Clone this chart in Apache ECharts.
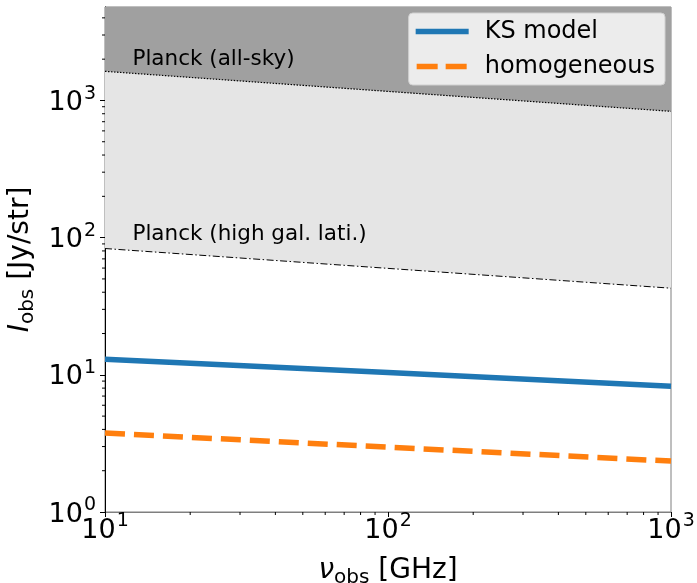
<!DOCTYPE html>
<html>
<head>
<meta charset="utf-8">
<script src="https://cdn.jsdelivr.net/npm/echarts@6/dist/echarts.min.js"></script>
<style>
html,body{margin:0;padding:0;background:#fff;}
#chart{width:697px;height:583px;}
</style>
</head>
<body>
<div id="chart"></div>
<script>
// ---- data ----
const freqs = [10, 100, 1000];                 // GHz
const planckAllSky = [1630, 1164, 833];        // Jy/str
const planckHighLat = [83.3, 59.7, 42.8];      // Jy/str
const ksModel = [13.0, 10.4, 8.27];            // Jy/str
const homogeneous = [3.76, 2.97, 2.35];        // Jy/str
const xTicks = [10, 100, 1000];
const yTicks = [1, 10, 100, 1000];
const xMinorTicks = [20,30,40,50,60,70,80,90,200,300,400,500,600,700,800,900];
const yMinorTicks = [2,3,4,5,6,7,8,9,20,30,40,50,60,70,80,90,200,300,400,500,600,700,800,900,2000,3000,4000];
const annotationNames = ['Planck (all-sky)', 'Planck (high gal. lati.)'];
const annotationX = [12.5, 12.5];
const annotationY = [2000, 106];
const xRange = [10, 1000];
const yRange = [1, 4800];

const FONT = 'DejaVu Sans';
const zip = (xs, ys) => xs.map((x, i) => [x, ys[i]]);
const supFmt = v => '{b|10}{s|' + Math.round(Math.log10(v)) + '}';
const supRich = {
  b: {fontSize: 27, fontFamily: FONT, color: '#000', lineHeight: 32, verticalAlign: 'bottom'},
  s: {fontSize: 19, fontFamily: FONT, color: '#000', lineHeight: 32, verticalAlign: 'top', padding: [0, 0, 0, 1]}
};
const nameRich = {
  i: {fontFamily: FONT, fontStyle: 'italic', fontSize: 28, color: '#000', lineHeight: 34, verticalAlign: 'bottom'},
  sub: {fontFamily: FONT, fontSize: 20, color: '#000', lineHeight: 34, verticalAlign: 'bottom', padding: [0, 0, -3, 0]},
  n: {fontFamily: FONT, fontSize: 28, color: '#000', lineHeight: 34, verticalAlign: 'bottom'}
};

const chart = echarts.init(document.getElementById('chart'), null, {renderer: 'canvas'});
chart.setOption({
  animation: false,
  backgroundColor: '#fff',
  grid: {left: 105, right: 26, top: 7, bottom: 71, containLabel: false, outerBoundsMode: 'none',
    show: true, borderColor: '#7f7f7f', borderWidth: 1, backgroundColor: 'transparent'},
  legend: {
    orient: 'vertical', right: 32, top: 13,
    backgroundColor: 'rgba(236,236,236,1)', borderColor: '#d0d0d0', borderWidth: 1, borderRadius: 4,
    padding: [5, 10, 5, 7], itemGap: 8, itemWidth: 53, itemHeight: 5.5,
    textStyle: {fontFamily: FONT, fontSize: 24, color: '#000', lineHeight: 27, padding: [0, 0, 0, 11]},
    data: [
      {name: 'KS model', icon: 'path://M0 0H53V5.5H0Z', itemStyle: {color: '#1f77b4'}},
      {name: 'homogeneous', icon: 'path://M2 0H23V5.5H2Z M31 0H52V5.5H31Z M53 0V5.5Z', itemStyle: {color: '#ff7f0e'}}
    ]
  },
  xAxis: {
    type: 'log', logBase: 10, min: xRange[0], max: xRange[1],
    name: '{i|ν}{sub|obs}{n| [GHz]}', nameLocation: 'middle', nameGap: 39,
    nameTextStyle: {rich: nameRich},
    axisLine: {show: true, lineStyle: {color: '#7f7f7f', width: 1}},
    axisTick: {show: true, length: 5, inside: false, lineStyle: {color: '#000', width: 1}, customValues: xTicks},
    axisLabel: {formatter: supFmt, rich: supRich, margin: 0, customValues: xTicks},
    splitLine: {show: false}, minorTick: {show: false}
  },
  yAxis: {
    type: 'log', logBase: 10, min: yRange[0], max: yRange[1],
    name: '{i|I}{sub|obs}{n| [Jy/str]}', nameLocation: 'middle', nameGap: 63, nameRotate: 90,
    nameTextStyle: {rich: nameRich},
    axisLine: {show: true, lineStyle: {color: '#000', width: 1}},
    axisTick: {show: true, length: 5, inside: false, lineStyle: {color: '#000', width: 1}, customValues: yTicks},
    axisLabel: {formatter: supFmt, rich: supRich, margin: 9, customValues: yTicks},
    splitLine: {show: false}, minorTick: {show: false}
  },
  series: [
    {
      name: 'Planck (high gal. lati.)', type: 'line', data: zip(freqs, planckHighLat),
      symbol: 'none', silent: true, z: 1,
      lineStyle: {color: '#000', width: 1, type: [7, 2.5, 1.5, 2.5]},
      areaStyle: {color: '#e5e5e5', opacity: 1, origin: 'end'}
    },
    {
      name: 'Planck (all-sky)', type: 'line', data: zip(freqs, planckAllSky),
      symbol: 'none', silent: true, z: 2,
      lineStyle: {color: '#000', width: 1.2, type: [1.5, 1.5]},
      areaStyle: {color: '#a0a0a0', opacity: 1, origin: 'end'}
    },
    {
      name: 'KS model', type: 'line', data: zip(freqs, ksModel),
      symbol: 'none', z: 3, color: '#1f77b4',
      lineStyle: {color: '#1f77b4', width: 5.5, type: 'solid'}
    },
    {
      name: 'homogeneous', type: 'line', data: zip(freqs, homogeneous),
      symbol: 'none', z: 3, color: '#ff7f0e',
      lineStyle: {color: '#ff7f0e', width: 5.5, type: [20, 9]}
    },
    {
      name: 'annotations', type: 'custom', silent: true, z: 4, clip: false,
      data: annotationNames.map((n, i) => [annotationX[i], annotationY[i], i]),
      renderItem: (params, api) => {
        const p = api.coord([api.value(0), api.value(1)]);
        return {type: 'text', x: p[0], y: p[1], style: {
          text: annotationNames[api.value(2)], fill: '#000', font: '21.5px "DejaVu Sans"',
          textAlign: 'left', textVerticalAlign: 'middle', verticalAlign: 'middle'}};
      }
    },
    {
      name: 'xminor', type: 'custom', silent: true, clip: false, z: 5,
      data: xMinorTicks.map(v => [v, yRange[0]]),
      renderItem: (params, api) => {
        const p = api.coord([api.value(0), api.value(1)]);
        return {type: 'line', shape: {x1: p[0], y1: p[1], x2: p[0], y2: p[1] + 3}, style: {stroke: '#000', lineWidth: 1}};
      }
    },
    {
      name: 'yminor', type: 'custom', silent: true, clip: false, z: 5,
      data: yMinorTicks.map(v => [xRange[0], v]),
      renderItem: (params, api) => {
        const p = api.coord([api.value(0), api.value(1)]);
        return {type: 'line', shape: {x1: p[0], y1: p[1], x2: p[0] - 3, y2: p[1]}, style: {stroke: '#000', lineWidth: 1}};
      }
    }
  ]
});
</script>
</body>
</html>
